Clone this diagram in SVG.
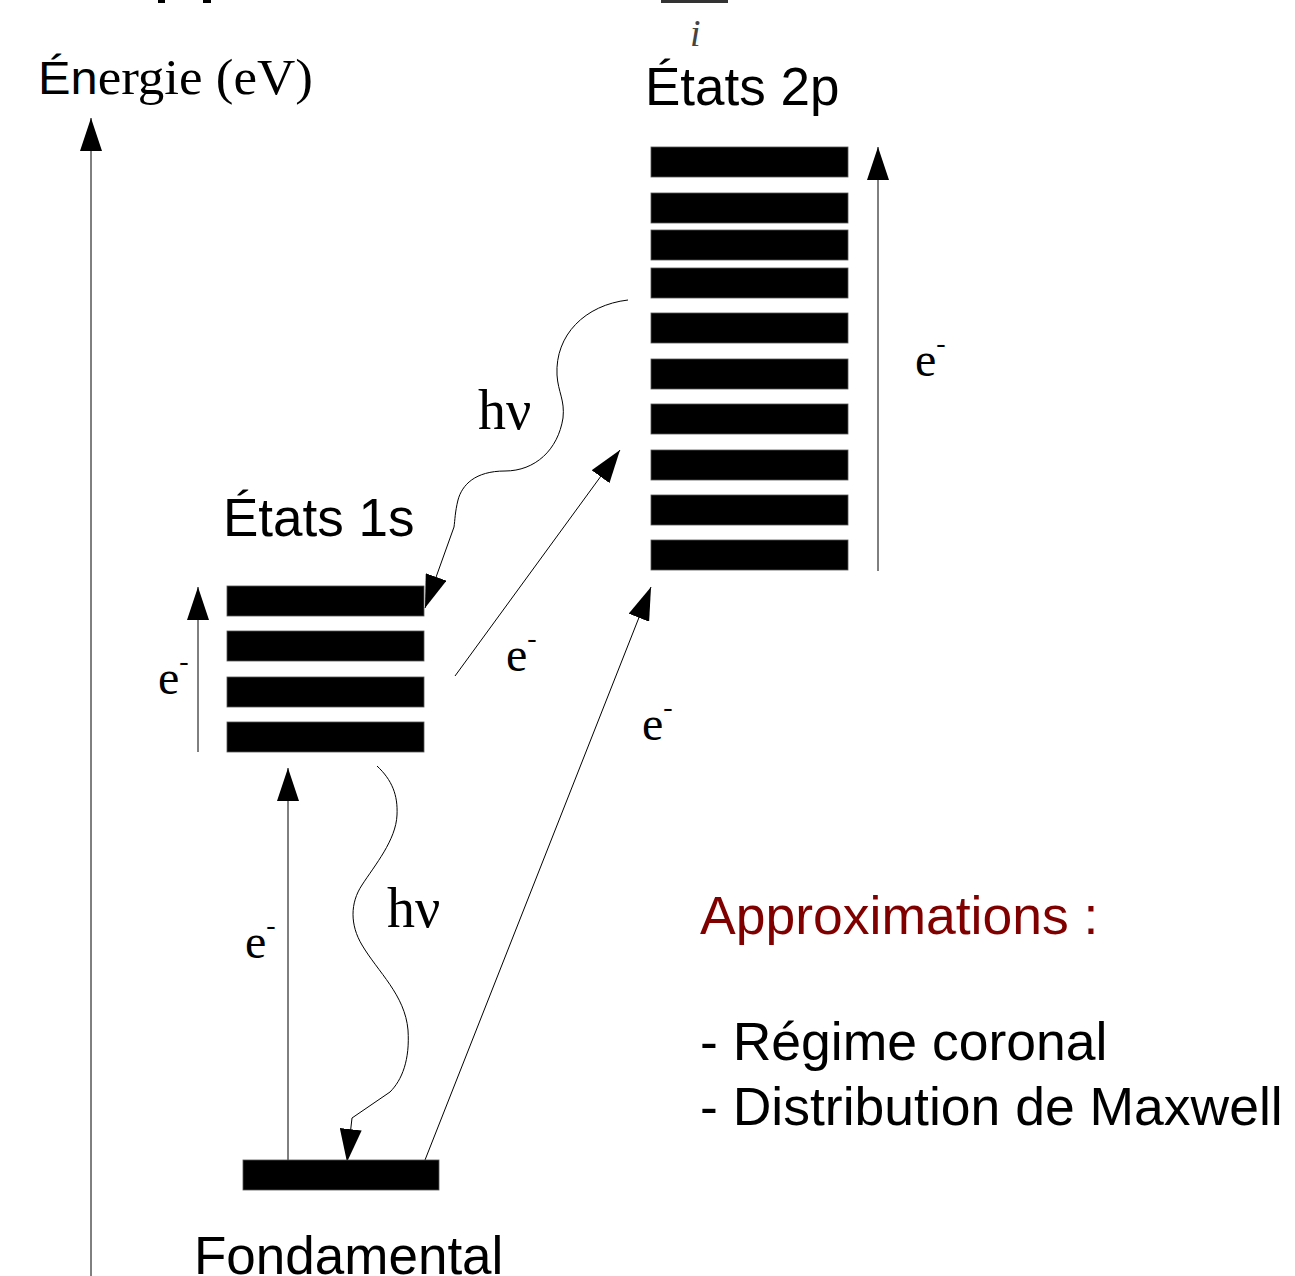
<svg xmlns="http://www.w3.org/2000/svg" width="1295" height="1276" viewBox="0 0 1295 1276">
  <style>
    .bar { fill: #000; stroke: #555; stroke-width: 0.8; }
    .sans { font-family: "Liberation Sans", Arial, sans-serif; fill: #000; }
    .serif { font-family: "Liberation Serif", "Times New Roman", serif; fill: #000; }
    .lbl { font-size: 53px; }
    .note { font-size: 53.5px; }
    .el { font-size: 48px; }
    .sup { font-size: 28px; }
    .wire { fill: none; stroke: #000; stroke-width: 1; }
  </style>
  <defs>
    <marker id="head" viewBox="0 0 33 22" refX="33" refY="11" markerWidth="33" markerHeight="22" markerUnits="userSpaceOnUse" orient="auto">
      <path d="M0,0 L33,11 L0,22 z" fill="#000"/>
    </marker>
  </defs>
  <rect width="1295" height="1276" fill="#fff"/>

  <!-- partially visible heading fragments at the top edge -->
  <rect x="158" y="0" width="7" height="3" fill="#000"/>
  <rect x="203" y="0" width="8" height="3" fill="#000"/>
  <rect x="661" y="0" width="67" height="3" fill="#333"/>
  <text x="690" y="46" font-family="Liberation Serif, serif" font-style="italic" font-size="38" fill="#444">i</text>

  <!-- energy axis title -->
  <text x="38" y="94" font-size="50" font-family="Liberation Serif, serif" fill="#000" textLength="275" lengthAdjust="spacingAndGlyphs"><tspan font-family="Liberation Sans, sans-serif" font-size="46">Én</tspan>ergie (eV)</text>

  <!-- connectors -->
  <g id="connectors">
    <line class="wire" x1="91" y1="1276" x2="91" y2="118" marker-end="url(#head)"/>
    <line class="wire" x1="198" y1="752" x2="198" y2="587" marker-end="url(#head)"/>
    <line class="wire" x1="878" y1="571" x2="878" y2="147" stroke="#666" marker-end="url(#head)"/>
    <line class="wire" x1="288" y1="1160" x2="288" y2="768" marker-end="url(#head)"/>
    <line class="wire" x1="455" y1="676" x2="620" y2="450" marker-end="url(#head)"/>
    <line class="wire" x1="425" y1="1160" x2="651" y2="587" marker-end="url(#head)"/>
    <path class="wire" d="M628,300 C585,305 555,335 557,375 C558,392 565,400 563,418 C558,450 535,471 505,471 C475,471 462,485 458,500 C455,512 455,520 454,527 L425,608" marker-end="url(#head)"/>
    <path class="wire" d="M377,766 C392,780 398,795 397,815 C396,840 375,865 362,885 C350,903 350,925 362,945 C378,972 405,995 408,1030 C410,1060 402,1080 390,1092 L352,1118 L347,1162" marker-end="url(#head)"/>
  </g>

  <!-- edge labels -->
  <g id="labels">
    <text class="serif" x="478" y="429" font-size="56">hν</text>
    <text class="serif" x="387" y="927" font-size="56">hν</text>
    <text class="serif el" x="915" y="376">e<tspan class="sup" dy="-24">-</tspan></text>
    <text class="serif el" x="158" y="694">e<tspan class="sup" dy="-24">-</tspan></text>
    <text class="serif el" x="506" y="671">e<tspan class="sup" dy="-24">-</tspan></text>
    <text class="serif el" x="642" y="740">e<tspan class="sup" dy="-24">-</tspan></text>
    <text class="serif el" x="245" y="958">e<tspan class="sup" dy="-24">-</tspan></text>
  </g>

  <!-- 2p levels -->
  <g id="states-2p">
    <text class="sans lbl" x="645" y="105">États 2p</text>
    <rect class="bar" x="651" y="147" width="197" height="30"/>
    <rect class="bar" x="651" y="193" width="197" height="30"/>
    <rect class="bar" x="651" y="230" width="197" height="30"/>
    <rect class="bar" x="651" y="268" width="197" height="30"/>
    <rect class="bar" x="651" y="313" width="197" height="30"/>
    <rect class="bar" x="651" y="359" width="197" height="30"/>
    <rect class="bar" x="651" y="404" width="197" height="30"/>
    <rect class="bar" x="651" y="450" width="197" height="30"/>
    <rect class="bar" x="651" y="495" width="197" height="30"/>
    <rect class="bar" x="651" y="540" width="197" height="30"/>
  </g>

  <!-- 1s levels -->
  <g id="states-1s">
    <text class="sans lbl" x="223" y="536">États 1s</text>
    <rect class="bar" x="227" y="586" width="197" height="30"/>
    <rect class="bar" x="227" y="631" width="197" height="30"/>
    <rect class="bar" x="227" y="677" width="197" height="30"/>
    <rect class="bar" x="227" y="722" width="197" height="30"/>
  </g>

  <!-- ground state -->
  <g id="ground">
    <rect class="bar" x="243" y="1160" width="196" height="30"/>
    <text class="sans lbl" x="194" y="1274">Fondamental</text>
  </g>

  <!-- assumptions note -->
  <g id="note">
    <text class="sans note" x="700" y="934" style="fill:#800000">Approximations :</text>
    <text class="sans note" x="700" y="1060">- Régime coronal</text>
    <text class="sans note" x="700" y="1125">- Distribution de Maxwell</text>
  </g>
</svg>
